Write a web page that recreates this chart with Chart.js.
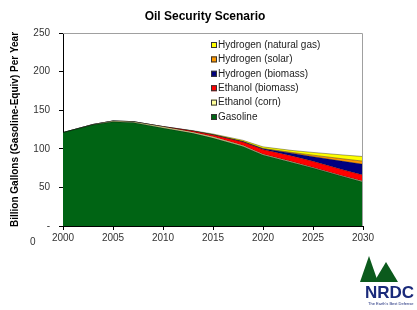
<!DOCTYPE html>
<html>
<head>
<meta charset="utf-8">
<script src="https://cdn.jsdelivr.net/npm/chart.js@4.4.0/dist/chart.umd.min.js"></script>
<style>
  body { margin: 0; background: #fff; }
  #wrap { position: relative; width: 417px; height: 310px; }
  #zero { position: absolute; left: 30px; top: 236px; font: 10px "Liberation Sans", Arial, sans-serif; color: #333; }
</style>
</head>
<body>
<div id="wrap">
  <canvas id="chart" width="417" height="310"></canvas>
  <div id="zero">0</div>
</div>
<script>
// --- data ---
const years = [2000, 2003, 2005, 2007, 2010, 2013, 2015, 2018, 2020, 2023, 2025, 2028, 2030];
const gasoline        = [121, 131, 135, 134, 127, 120, 114, 103, 92, 82, 75, 64, 57];
const ethanolCorn     = [0, 0.5, 1, 1.2, 1.5, 1.5, 1.5, 1.2, 1, 1, 0.8, 0.8, 1];
const ethanolBiomass  = [0, 0, 0, 0, 0.3, 1.5, 2.5, 4.5, 6, 7.5, 8, 8, 8];
const hydrogenBiomass = [0, 0, 0, 0, 0, 0, 0.2, 0.6, 1, 3.5, 6, 11, 14];
const hydrogenSolar   = [0, 0, 0, 0, 0, 0, 0, 0.2, 0.5, 1.2, 2, 3.2, 4];
const hydrogenNatGas  = [0, 0, 0, 0, 0, 0.5, 1, 1.5, 2, 2.5, 3.5, 5, 6];

const seriesNames  = ['Gasoline', 'Ethanol (corn)', 'Ethanol (biomass)', 'Hydrogen (biomass)', 'Hydrogen (solar)', 'Hydrogen (natural gas)'];
const seriesValues = [gasoline, ethanolCorn, ethanolBiomass, hydrogenBiomass, hydrogenSolar, hydrogenNatGas];
const seriesColors = ['#006414', '#ffff99', '#ff0000', '#000080', '#ff9900', '#ffff00'];

const FONT = '"Liberation Sans", Arial, sans-serif';

const datasets = seriesNames.map((name, i) => ({
  label: name,
  data: years.map((y, j) => ({ x: y, y: seriesValues[i][j] })),
  backgroundColor: seriesColors[i],
  borderColor: 'rgba(0,0,0,0.6)',
  borderWidth: 0.6,
  pointRadius: 0,
  tension: 0,
  fill: i === 0 ? 'origin' : '-1',
}));

// title, frame, legend and logo drawn on the canvas
const decor = {
  id: 'decor',
  afterDatasetsDraw(chart) {
    const ctx = chart.ctx;
    const a = chart.chartArea;
    ctx.save();
    // light frame on top and right
    ctx.strokeStyle = '#a0a0a0';
    ctx.lineWidth = 1;
    ctx.beginPath();
    ctx.moveTo(a.left, a.top + 0.5);
    ctx.lineTo(a.right - 0.5, a.top + 0.5);
    ctx.lineTo(a.right - 0.5, a.bottom);
    ctx.stroke();

    // title
    ctx.fillStyle = '#000';
    ctx.font = 'bold 12px ' + FONT;
    ctx.textAlign = 'center';
    ctx.textBaseline = 'middle';
    ctx.fillText('Oil Security Scenario', 205, 17);

    // legend (reverse order)
    ctx.font = '10px ' + FONT;
    ctx.textAlign = 'left';
    for (let k = 0; k < seriesNames.length; k++) {
      const i = seriesNames.length - 1 - k;
      const y = 45 + k * 14.4;
      ctx.fillStyle = seriesColors[i];
      ctx.fillRect(211, y - 3, 6, 6);
      ctx.strokeStyle = '#333';
      ctx.strokeRect(211.5, y - 2.5, 5, 5);
      ctx.fillStyle = '#222';
      ctx.fillText(seriesNames[i], 218, y);
    }

    // NRDC logo
    ctx.fillStyle = '#0b5a1c';
    ctx.beginPath();
    ctx.moveTo(360, 282); ctx.lineTo(369, 256); ctx.lineTo(378, 282); ctx.closePath();
    ctx.fill();
    ctx.beginPath();
    ctx.moveTo(374, 282); ctx.lineTo(386, 262); ctx.lineTo(398, 282); ctx.closePath();
    ctx.fill();
    ctx.fillStyle = '#1a2a7a';
    ctx.font = 'bold 17px ' + FONT;
    ctx.fillText('NRDC', 365, 293);
    ctx.font = '4px ' + FONT;
    ctx.fillText("The Earth's Best Defense", 368, 304);
    ctx.restore();
  }
};

new Chart(document.getElementById('chart'), {
  type: 'line',
  data: { datasets },
  plugins: [decor],
  options: {
    responsive: false,
    animation: false,
    layout: { padding: { top: 33, right: 54, left: 0, bottom: 0 } },
    plugins: { legend: { display: false }, tooltip: { enabled: false } },
    scales: {
      x: {
        type: 'linear',
        min: 2000, max: 2030,
        afterFit: (s) => { s.height = 84; },
        grid: { drawOnChartArea: false, color: '#000', tickLength: 4 },
        border: { color: '#000' },
        ticks: { stepSize: 5, color: '#333', font: { family: FONT, size: 10 }, padding: 2, maxRotation: 0, callback: (v) => String(v) },
      },
      y: {
        stacked: true,
        min: 0, max: 250,
        afterFit: (s) => { s.width = 63; },
        grid: { drawOnChartArea: false, color: '#000', tickLength: 4 },
        border: { color: '#000' },
        ticks: { stepSize: 50, color: '#333', font: { family: FONT, size: 10 }, padding: 9, callback: (v) => v === 0 ? '-' : String(v) },
        title: { display: true, text: 'Billion Gallons (Gasoline-Equiv) Per Year', color: '#000', font: { family: FONT, size: 10, weight: 'bold' }, padding: { top: 9, bottom: 4 } },
      },
    },
  },
});
</script>
</body>
</html>
